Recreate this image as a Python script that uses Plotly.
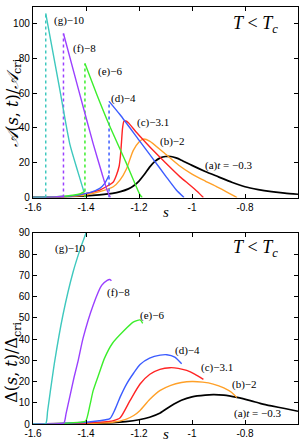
import plotly.graph_objects as go

# ---------------- data: top panel  A(s,t)/A_cri ----------------
A_a_s = [-1.6, -1.5, -1.45, -1.4, -1.35, -1.3, -1.27, -1.24, -1.22, -1.2, -1.18, -1.16, -1.14, -1.12, -1.1, -1.08, -1.06, -1.04, -1.0, -0.95, -0.9, -0.85, -0.8, -0.75, -0.7, -0.65, -0.6]
A_a = [0.1, 0.3, 0.6, 1.0, 1.6, 2.4, 3.4, 5.0, 6.8, 9.5, 13.2, 17.5, 20.8, 22.8, 23.6, 23.6, 22.8, 21.5, 18.5, 15.0, 11.9, 8.8, 6.2, 4.6, 3.4, 2.5, 1.9]

A_b_s = [-1.6, -1.5, -1.4, -1.348, -1.297, -1.272, -1.247, -1.222, -1.2, -1.184, -1.16, -1.108, -1.05, -1.0, -0.95, -0.906, -0.87, -0.845, -0.83]
A_b = [0.1, 0.4, 1.5, 3.4, 6.2, 10.0, 16.6, 27.0, 32.0, 33.6, 32.5, 26.0, 18.6, 13.5, 9.5, 6.2, 3.3, 1.2, 0.0]

A_c_s = [-1.6, -1.5, -1.45, -1.398, -1.348, -1.297, -1.285, -1.275, -1.27, -1.266, -1.262, -1.257, -1.25, -1.24, -1.21, -1.18, -1.146, -1.1, -1.045, -1.007, -0.98, -0.957]
A_c = [0.1, 0.5, 1.0, 2.4, 4.3, 9.0, 13.0, 18.0, 24.0, 32.0, 40.0, 43.9, 44.0, 43.0, 37.5, 32.5, 27.0, 20.0, 11.9, 7.1, 3.5, 0.0]

A_d_low_s = [-1.6, -1.5, -1.45, -1.42, -1.386, -1.348, -1.33, -1.313]
A_d_low = [0.1, 0.5, 1.0, 1.7, 2.8, 5.3, 8.0, 12.8]
A_d_up_s = [-1.313, -1.272, -1.2, -1.15, -1.1, -1.06, -1.03]
A_d_up = [55.3, 47.7, 33.0, 22.8, 12.5, 4.5, 0.0]

A_e_low_s = [-1.6, -1.5, -1.45, -1.42, -1.404]
A_e_low = [0.1, 0.6, 1.3, 2.3, 3.5]
A_e_up_s = [-1.404, -1.36, -1.316, -1.25, -1.196, -1.188]
A_e_up = [77.0, 59.5, 43.0, 20.5, 1.5, 0.0]

A_f_low_s = [-1.6, -1.52, -1.485]
A_f_low = [0.05, 0.3, 0.8]
A_f_up_s = [-1.485, -1.43, -1.373, -1.34, -1.32, -1.308]
A_f_up = [94.3, 63.0, 31.0, 14.0, 4.0, 0.0]

A_g_low_s = [-1.6, -1.552]
A_g_low = [0.0, 0.1]
A_g_up_s = [-1.552, -1.5, -1.461, -1.43, -1.408]
A_g_up = [105.8, 63.0, 30.7, 14.5, 3.4]

# ---------------- data: bottom panel  Delta(s,t)/Delta_cri ----------------
D_a_s = [-1.6, -1.4, -1.3, -1.25, -1.2, -1.16, -1.12, -1.08, -1.04, -1.0, -0.95, -0.92, -0.88, -0.83, -0.78, -0.74, -0.7, -0.65, -0.6]
D_a = [0.0, 0.2, 0.6, 1.1, 2.0, 3.2, 5.2, 8.5, 11.2, 12.8, 13.6, 13.8, 13.6, 12.5, 11.0, 9.6, 8.5, 7.3, 6.0]

D_b_s = [-1.6, -1.4, -1.3, -1.25, -1.22, -1.196, -1.16, -1.12, -1.08, -1.04, -1.0, -0.96, -0.92, -0.88, -0.85, -0.831]
D_b = [0.0, 0.3, 0.8, 2.2, 4.0, 6.4, 11.5, 15.8, 18.2, 19.5, 20.0, 19.7, 18.8, 17.0, 14.8, 12.5]

D_c_s = [-1.6, -1.5, -1.4, -1.3, -1.272, -1.234, -1.196, -1.159, -1.121, -1.083, -1.052, -1.02, -0.99, -0.957]
D_c = [0.0, 0.2, 0.5, 1.5, 2.8, 11.0, 18.8, 23.4, 25.7, 26.5, 26.2, 25.2, 23.5, 21.0]

D_d_s = [-1.6, -1.5, -1.4, -1.35, -1.31, -1.29, -1.27, -1.247, -1.22, -1.196, -1.16, -1.12, -1.095, -1.065, -1.039]
D_d = [0.0, 0.3, 0.8, 1.5, 2.5, 7.0, 13.0, 18.8, 24.0, 28.0, 31.0, 32.4, 32.6, 31.5, 28.4]

D_e_s = [-1.6, -1.5, -1.42, -1.401, -1.385, -1.373, -1.35, -1.33, -1.3, -1.26, -1.222, -1.196, -1.186]
D_e = [0.0, 0.3, 0.9, 1.4, 9.0, 15.7, 24.0, 31.0, 38.0, 43.5, 47.9, 49.0, 47.4]

D_f_s = [-1.6, -1.5, -1.483, -1.475, -1.46, -1.445, -1.43, -1.411, -1.373, -1.341, -1.32, -1.31, -1.304]
D_f = [0.0, 0.2, 0.5, 5.0, 13.5, 22.0, 29.6, 40.4, 55.9, 65.2, 67.6, 68.0, 67.4]

D_g_s = [-1.6, -1.552, -1.545, -1.535, -1.518, -1.487, -1.449, -1.42, -1.398]
D_g = [0.0, 0.2, 6.0, 15.0, 29.6, 51.3, 71.4, 83.0, 90.5]

CURVE_TAGS = ["(a)", "(b)", "(c)", "(d)", "(e)", "(f)", "(g)"]
T_VALUES = ["−0.3", "−2", "−3.1", "−4", "−6", "−8", "−10"]

X_TICKS = [-1.6, -1.4, -1.2, -1.0, -0.8, -0.6]
X_TICKTEXT = ["-1.6", "-1.4", "-1.2", "-1", "-0.8", "-0.6"]
A_TICKS = [0, 20, 40, 60, 80, 100]
D_TICKS = [0, 10, 20, 30, 40, 50, 60, 70, 80, 90]

# ---------------- styles ----------------
COLORS = ["#000000", "#ffa028", "#ff2424", "#3c5cff", "#3cee2c", "#9a40ff", "#3ec8be"]
TOP_LABEL_POS = [(-0.958, 18.5), (-1.128, 32.3), (-1.215, 43.0), (-1.314, 57.2), (-1.363, 72.3), (-1.457, 85.8), (-1.529, 101.5)]
BOT_LABEL_POS = [(-0.850, 5.0), (-0.857, 18.4), (-0.974, 26.5), (-1.072, 34.7), (-1.205, 51.0), (-1.329, 61.8), (-1.525, 82.6)]

fig = go.Figure()


def line(xs, ys, color, xa, ya, width=1.4, dash="solid"):
    fig.add_trace(go.Scatter(x=xs, y=ys, mode="lines", xaxis=xa, yaxis=ya,
                             line=dict(color=color, width=width, dash=dash, shape="spline", smoothing=0.6),
                             hoverinfo="skip", showlegend=False))


# top panel
line(A_a_s, A_a, COLORS[0], "x", "y", width=1.7)
line(A_b_s, A_b, COLORS[1], "x", "y")
line(A_c_s, A_c, COLORS[2], "x", "y")
for k, (ls, lv, us, uv) in enumerate([
        (A_d_low_s, A_d_low, A_d_up_s, A_d_up),
        (A_e_low_s, A_e_low, A_e_up_s, A_e_up),
        (A_f_low_s, A_f_low, A_f_up_s, A_f_up),
        (A_g_low_s, A_g_low, A_g_up_s, A_g_up)]):
    c = COLORS[3 + k]
    line(ls, lv, c, "x", "y")
    line([ls[-1], us[0]], [0, uv[0]], c, "x", "y", width=1.5, dash="dot")
    line(us, uv, c, "x", "y")

# bottom panel
for k, (xs, ys) in enumerate([(D_a_s, D_a), (D_b_s, D_b), (D_c_s, D_c), (D_d_s, D_d),
                              (D_e_s, D_e), (D_f_s, D_f), (D_g_s, D_g)]):
    line(xs, ys, COLORS[k], "x2", "y2", width=1.7 if k == 0 else 1.4)

serif = "Liberation Serif"
ann = []
for k in range(7):
    tag = CURVE_TAGS[k]
    val = T_VALUES[k]
    txt = f"{tag}<i>t</i> = {val}" if k == 0 else f"{tag}{val}"
    for (px, py), xr, yr in [(TOP_LABEL_POS[k], "x", "y"), (BOT_LABEL_POS[k], "x2", "y2")]:
        ann.append(dict(x=px, y=py, xref=xr, yref=yr, text=txt, showarrow=False,
                        xanchor="left", yanchor="middle",
                        font=dict(family=serif, size=11, color="black")))

# T < Tc
for yv in [0.957, 0.422]:
    ann.append(dict(x=0.84, y=yv, xref="paper", yref="paper", text="<i>T</i> &lt; <i>T<sub>c</sub></i>",
                    showarrow=False, xanchor="center", yanchor="middle",
                    font=dict(family=serif, size=18, color="black")))
# x titles
for yv in [0.508, -0.025]:
    ann.append(dict(x=0.5, y=yv, xref="paper", yref="paper", text="<i>s</i>", showarrow=False,
                    xanchor="center", yanchor="middle",
                    font=dict(family=serif, size=15, color="black")))
# y titles
ann.append(dict(x=-0.075, y=0.771, xref="paper", yref="paper", textangle=-90,
                text="<i>𝒜</i>(<i>s</i>, <i>t</i>)/<i>𝒜</i><sub>cri</sub>", showarrow=False,
                xanchor="center", yanchor="middle",
                font=dict(family="DejaVu Serif", size=16, color="black")))
ann.append(dict(x=-0.075, y=0.147, xref="paper", yref="paper", textangle=-90,
                text="Δ(<i>s</i>, <i>t</i>)/Δ<sub>cri</sub>", showarrow=False,
                xanchor="center", yanchor="middle",
                font=dict(family="DejaVu Serif", size=16, color="black")))

axis_common = dict(showline=True, linecolor="black", linewidth=1.2, mirror="ticks",
                   ticks="inside", ticklen=4, tickcolor="black", tickwidth=1,
                   showgrid=False, zeroline=False,
                   tickfont=dict(family="Liberation Sans", size=10, color="black"))

fig.update_layout(
    width=305, height=444,
    margin=dict(l=33, r=7, t=1, b=20),
    paper_bgcolor="white", plot_bgcolor="white",
    showlegend=False,
    xaxis=dict(domain=[0, 1], anchor="y", range=[-1.6, -0.6], tickvals=X_TICKS, ticktext=X_TICKTEXT, **axis_common),
    yaxis=dict(domain=[0.543, 1.0], anchor="x", range=[0, 109.5], tickvals=A_TICKS, **axis_common),
    xaxis2=dict(domain=[0, 1], anchor="y2", range=[-1.6, -0.6], tickvals=X_TICKS, ticktext=X_TICKTEXT, **axis_common),
    yaxis2=dict(domain=[0.0, 0.4586], anchor="x2", range=[0, 90], tickvals=D_TICKS, **axis_common),
    annotations=ann,
)

fig.write_html("out.html", config={"displayModeBar": False, "staticPlot": True},
               post_script="document.body.style.margin='0';document.body.style.overflow='hidden';")
